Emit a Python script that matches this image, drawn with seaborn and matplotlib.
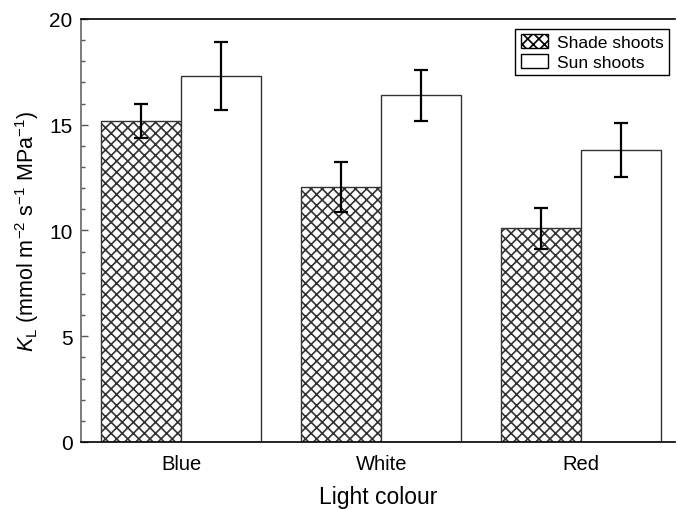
import matplotlib
matplotlib.use("Agg")
import matplotlib.pyplot as plt
import seaborn as sns
import pandas as pd
import numpy as np
from matplotlib.patches import Patch
from matplotlib.ticker import MultipleLocator

categories = ["Blue", "White", "Red"]
groups = ["Shade shoots", "Sun shoots"]
shade_vals = [15.17, 12.05, 10.11]
shade_err = [0.82, 1.17, 0.97]
sun_vals = [17.32, 16.40, 13.79]
sun_err = [1.61, 1.20, 1.28]

sns.set_style("white")
plt.rcParams['font.family'] = ['Liberation Sans', 'DejaVu Sans']
plt.rcParams['mathtext.fontset'] = 'custom'
plt.rcParams['mathtext.rm'] = 'Liberation Sans'
plt.rcParams['mathtext.it'] = 'Liberation Sans:italic'
plt.rcParams['hatch.linewidth'] = 1.2
plt.rcParams['hatch.color'] = 'black'
plt.rcParams['text.color'] = 'black'
plt.rcParams['axes.labelcolor'] = 'black'
plt.rcParams['xtick.color'] = 'black'
plt.rcParams['ytick.color'] = 'black'

df = pd.DataFrame({
    "cat": categories * 2,
    "group": [groups[0]] * 3 + [groups[1]] * 3,
    "val": shade_vals + sun_vals,
})

fig = plt.figure(figsize=(6.77, 5.10), dpi=100)
ax = fig.add_axes([0.1196, 0.1314, 0.878, 0.8294])

sns.barplot(data=df, x="cat", y="val", hue="group", order=categories,
            hue_order=groups, palette=["white", "white"], errorbar=None,
            width=0.8, edgecolor="#333333", linewidth=1.0, ax=ax, legend=False)

n = len(categories)
for i, p in enumerate(ax.patches[:2 * n]):
    gi = i // n
    ci = i % n
    if gi == 0:
        p.set_hatch("xxx")
        err = shade_err[ci]
    else:
        err = sun_err[ci]
    cx = p.get_x() + p.get_width() / 2
    ax.errorbar(cx, p.get_height(), yerr=err, fmt="none", ecolor="black",
                elinewidth=1.6, capsize=5, capthick=1.6, zorder=5)

ax.set_xlim(-0.5, 2.47)
ax.set_ylim(0, 20)
ax.yaxis.set_major_locator(MultipleLocator(5))
ax.yaxis.set_minor_locator(MultipleLocator(1))
ax.tick_params(axis="y", which="major", direction="in", length=5, width=1,
               labelsize=15, left=True, color="#555555", labelcolor="black", pad=6)
ax.tick_params(axis="y", which="minor", direction="in", length=3, width=1,
               left=True, color="#555555")
ax.tick_params(axis="x", length=0, labelsize=14.5, pad=9, labelcolor="black")

for s in ["top", "bottom"]:
    ax.spines[s].set_color("black")
    ax.spines[s].set_linewidth(1.2)
ax.spines["left"].set_color("#666666")
ax.spines["left"].set_linewidth(1.2)
ax.spines["right"].set_visible(False)

ax.set_xlabel("Light colour", fontsize=16.5, labelpad=8, color="black")
ax.set_ylabel(r"$K_\mathrm{L}$ (mmol m$^{-2}$ s$^{-1}$ MPa$^{-1}$)", fontsize=15.5,
              labelpad=6, color="black")

handles = [Patch(facecolor="white", edgecolor="black", hatch="xxx", linewidth=1),
           Patch(facecolor="white", edgecolor="black", linewidth=1)]
leg = ax.legend(handles, groups, loc="upper right", bbox_to_anchor=(0.995, 0.985),
                fontsize=12.5, frameon=True, fancybox=False, edgecolor="black",
                framealpha=1, borderpad=0.3, handlelength=1.6, handleheight=0.9,
                handletextpad=0.5, labelspacing=0.2, borderaxespad=0.2)
leg.get_frame().set_linewidth(1.0)
for t in leg.get_texts():
    t.set_color("black")

fig.savefig("out.png", dpi=100)
